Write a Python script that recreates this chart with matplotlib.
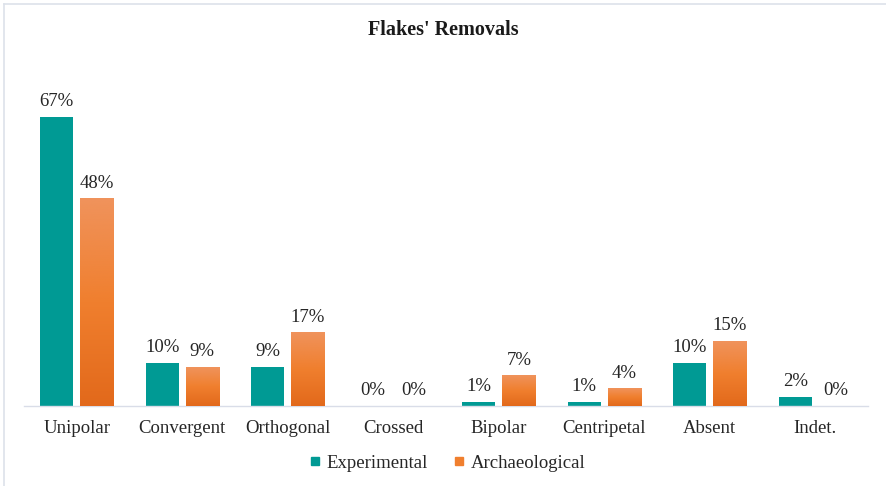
import numpy as np
import matplotlib
matplotlib.use('Agg')
import matplotlib.pyplot as plt
from matplotlib.colors import LinearSegmentedColormap
from matplotlib.lines import Line2D

# Chart data
categories = ['Unipolar', 'Convergent', 'Orthogonal', 'Crossed',
              'Bipolar', 'Centripetal', 'Absent', 'Indet.']
experimental = [67, 10, 9, 0, 1, 1, 10, 2]
archaeological = [48, 9, 17, 0, 7, 4, 15, 0]

teal = '#009A94'
orange_top = '#F0935C'
orange_bottom = '#E2691B'
orange = '#F07F2E'

plt.rcParams['font.family'] = ['Liberation Serif', 'DejaVu Serif']

fig = plt.figure(figsize=(8.86, 4.86), dpi=100)
ax = fig.add_axes([24 / 886, 80 / 486, 844 / 886, 345 / 486])

x = np.arange(len(categories))
width = 0.313
offset = 0.19

bars_exp = ax.bar(x - offset, experimental, width, color=teal, zorder=2)
bars_arc = ax.bar(x + offset, archaeological, width, color=orange, zorder=2)

# Orange gradient fill (light at top, darker at bottom)
cmap = LinearSegmentedColormap.from_list('org', [orange_bottom, orange, orange_top])
grad = np.linspace(0, 1, 256).reshape(-1, 1)
for b in bars_arc:
    h = b.get_height()
    if h <= 0:
        continue
    x0 = b.get_x()
    ax.imshow(grad, extent=(x0, x0 + b.get_width(), 0, h), origin='lower',
              cmap=cmap, aspect='auto', zorder=3, interpolation='bicubic')

ax.set_xlim(-0.5, len(categories) - 0.5)
ax.set_ylim(0, 80)

# Data labels
for bars, vals in [(bars_exp, experimental), (bars_arc, archaeological)]:
    for b, v in zip(bars, vals):
        ax.annotate(f'{v}%', (b.get_x() + b.get_width() / 2, v), xytext=(0, 5),
                    textcoords='offset points', ha='center', va='bottom',
                    fontsize=13.5, color='#262626')

ax.set_xticks(x)
ax.set_xticklabels(categories, fontsize=13.5, color='#262626')
ax.tick_params(axis='x', length=0, pad=10)
ax.set_yticks([])
for s in ['top', 'right', 'left']:
    ax.spines[s].set_visible(False)
ax.spines['bottom'].set_color('#D9DDE8')
ax.spines['bottom'].set_linewidth(1.0)

fig.text(0.5, 1 - 30 / 486, "Flakes' Removals", ha='center', va='center',
         fontsize=14.5, fontweight='bold', color='#1a1a1a')

handles = [Line2D([], [], marker='s', linestyle='', markersize=6,
                  markerfacecolor=teal, markeredgecolor=teal),
           Line2D([], [], marker='s', linestyle='', markersize=6,
                  markerfacecolor=orange, markeredgecolor=orange)]
fig.legend(handles, ['Experimental', 'Archaeological'], loc='center',
           bbox_to_anchor=(0.505, 1 - 463 / 486), ncol=2, frameon=False,
           fontsize=13.5, handlelength=0.6, handletextpad=0.3,
           columnspacing=1.4, labelcolor='#262626')

# light border along top and left edge of the image
fig.add_artist(Line2D([4 / 886, 1], [1 - 4 / 486, 1 - 4 / 486],
                      transform=fig.transFigure, color='#DDE2EA', lw=1.2))
fig.add_artist(Line2D([4 / 886, 4 / 886], [0, 1 - 4 / 486],
                      transform=fig.transFigure, color='#DDE2EA', lw=1.2))

fig.savefig('out.png', dpi=100)
